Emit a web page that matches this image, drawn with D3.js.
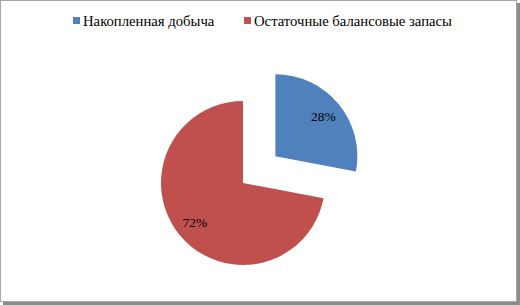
<!DOCTYPE html>
<html>
<head>
<meta charset="utf-8">
<script src="https://cdn.jsdelivr.net/npm/d3@7"></script>
<style>
  html, body { margin: 0; padding: 0; background: #fff; }
  svg { display: block; }
  text { font-family: "Liberation Serif", "Times New Roman", serif; }
</style>
</head>
<body>
<div id="chart"></div>
<script>
const categories = ["Накопленная добыча", "Остаточные балансовые запасы"];
const shares = [28, 72];
const colors = ["#4F81BD", "#C0504D"];

const W = 520, H = 305;
const radius = 82;
const explode = 42;
const cx = 243, cy = 183;

const svg = d3.select("#chart")
  .append("svg")
  .attr("width", W)
  .attr("height", H);

// frame with shadow
svg.append("rect")
  .attr("x", 3).attr("y", 3)
  .attr("width", W - 3).attr("height", H - 3)
  .attr("fill", "#8c8c8c");
svg.append("rect")
  .attr("x", 0.5).attr("y", 0.5)
  .attr("width", W - 4).attr("height", H - 4)
  .attr("fill", "#fff")
  .attr("stroke", "#a6a6a6");

const data = categories.map((c, i) => ({ name: c, value: shares[i], color: colors[i] }));

const pie = d3.pie()
  .value(d => d.value)
  .sort(null);

const arc = d3.arc()
  .innerRadius(0)
  .outerRadius(radius);

const g = svg.append("g")
  .attr("transform", `translate(${cx},${cy})`);

const arcs = pie(data);

// first slice pulled out along its bisector
const slice = g.selectAll("g.slice")
  .data(arcs)
  .enter()
  .append("g")
  .attr("class", "slice")
  .attr("transform", (d, i) => {
    if (i !== 0) return null;
    const a = (d.startAngle + d.endAngle) / 2;
    return `translate(${Math.sin(a) * explode},${-Math.cos(a) * explode})`;
  });

slice.append("path")
  .attr("d", arc)
  .attr("fill", d => d.data.color);

slice.append("text")
  .attr("x", d => {
    const a = (d.startAngle + d.endAngle) / 2;
    return Math.sin(a) * radius * 0.76;
  })
  .attr("y", d => {
    const a = (d.startAngle + d.endAngle) / 2;
    return -Math.cos(a) * radius * 0.76;
  })
  .attr("dy", "0.35em")
  .attr("text-anchor", "middle")
  .attr("font-size", "13.5px")
  .attr("fill", "#000")
  .text(d => `${d.data.value}%`);

// legend
const legendX = [73, 244];
const legend = svg.append("g").attr("class", "legend");

const item = legend.selectAll("g.item")
  .data(data)
  .enter()
  .append("g")
  .attr("class", "item")
  .attr("transform", (d, i) => `translate(${legendX[i]},17)`);

item.append("rect")
  .attr("width", 7)
  .attr("height", 7)
  .attr("fill", d => d.color);

item.append("text")
  .attr("x", 10)
  .attr("y", 9)
  .attr("font-size", "14.7px")
  .attr("fill", "#000")
  .text(d => d.name);
</script>
</body>
</html>
